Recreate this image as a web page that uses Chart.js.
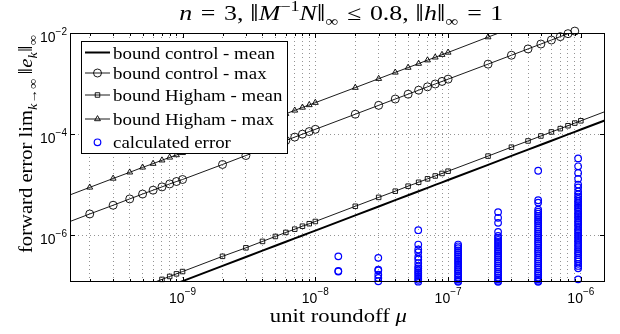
<!DOCTYPE html>
<html><head><meta charset="utf-8">
<script src="https://cdn.jsdelivr.net/npm/chart.js@4.4.1/dist/chart.umd.min.js"></script>
<style>html,body{margin:0;padding:0;background:#fff;}canvas{display:block;}</style>
</head><body>
<canvas id="c" width="620" height="334"></canvas>
<script>
// ---------- data ----------
const mu = [
  1e-10,2e-10,3e-10,4e-10,5e-10,6e-10,7e-10,8e-10,9e-10,
  1e-9,2e-9,3e-9,4e-9,5e-9,6e-9,7e-9,8e-9,9e-9,
  1e-8,2e-8,3e-8,4e-8,5e-8,6e-8,7e-8,8e-8,9e-8,
  1e-7,2e-7,3e-7,4e-7,5e-7,6e-7,7e-7,8e-7,9e-7,
  1e-6,2e-6];
const boundControlMean = [
  1.23e-8,2.46e-8,3.69e-8,4.92e-8,6.15e-8,7.38e-8,8.61e-8,9.84e-8,1.107e-7,
  1.23e-7,2.46e-7,3.69e-7,4.92e-7,6.15e-7,7.38e-7,8.61e-7,9.84e-7,1.107e-6,
  1.23e-6,2.46e-6,3.69e-6,4.92e-6,6.15e-6,7.38e-6,8.61e-6,9.84e-6,1.107e-5,
  1.23e-5,2.46e-5,3.69e-5,4.92e-5,6.15e-5,7.38e-5,8.61e-5,9.84e-5,1.107e-4,
  1.23e-4,2.46e-4];
const boundControlMax = [
  1.31e-6,2.62e-6,3.9e-6,5.2e-6,6.5e-6,7.75e-6,9.0e-6,1.03e-5,1.15e-5,
  1.26e-5,2.5e-5,3.76e-5,5.0e-5,6.25e-5,7.45e-5,8.7e-5,9.95e-5,1.12e-4,
  1.24e-4,2.47e-4,3.7e-4,4.93e-4,6.15e-4,7.38e-4,8.6e-4,9.8e-4,1.1e-3,
  1.22e-3,2.42e-3,3.63e-3,4.84e-3,6.05e-3,7.26e-3,8.47e-3,9.7e-3,1.09e-2,
  1.21e-2,2.42e-2];
const boundHighamMean = [
  1.9e-8,3.8e-8,5.7e-8,7.6e-8,9.5e-8,1.14e-7,1.33e-7,1.52e-7,1.71e-7,
  1.9e-7,3.8e-7,5.6e-7,7.5e-7,9.4e-7,1.13e-6,1.31e-6,1.5e-6,1.68e-6,
  1.86e-6,3.72e-6,5.58e-6,7.4e-6,9.3e-6,1.11e-5,1.3e-5,1.48e-5,1.66e-5,
  1.84e-5,3.66e-5,5.5e-5,7.3e-5,9.15e-5,1.1e-4,1.28e-4,1.46e-4,1.65e-4,
  1.83e-4,3.66e-4];
const boundHighamMax = [
  4.4e-6,8.8e-6,1.32e-5,1.75e-5,2.19e-5,2.6e-5,3.03e-5,3.45e-5,3.85e-5,
  4.25e-5,8.5e-5,1.27e-4,1.69e-4,2.1e-4,2.52e-4,2.94e-4,3.36e-4,3.77e-4,
  4.18e-4,8.3e-4,1.245e-3,1.66e-3,2.07e-3,2.48e-3,2.9e-3,3.3e-3,3.72e-3,
  4.12e-3,8.3e-3,1.24e-2,1.65e-2,2.06e-2,2.47e-2,2.88e-2,3.3e-2,3.7e-2,
  4.12e-2,8.24e-2];
const errMu = [1.49e-8,2.98e-8,5.96e-8,1.19e-7,2.38e-7,4.77e-7,9.54e-7];
const errCol1 = [3.8e-7,1.95e-7,1.9e-7];
const errCol2 = [3.55e-7,2.08e-7,2.0e-7,1.65e-7,1.42e-7,1.22e-7];
const errCol3 = [1.25e-6,6.5e-7,5.2e-7,4.6e-7,3.7e-7,3.3e-7,2.8e-7,2.4e-7,2.2e-7,2.0e-7,1.85e-7,1.7e-7,1.55e-7,1.42e-7,1.3e-7,1.2e-7];
const errCol4 = [6.5e-7,6.0e-7,5.5e-7,5.0e-7,4.6e-7,4.2e-7,3.85e-7,3.5e-7,3.2e-7,2.95e-7,2.7e-7,2.45e-7,2.25e-7,2.05e-7,1.9e-7,1.72e-7,1.58e-7,1.45e-7,1.33e-7,1.24e-7,1.19e-7];
const errCol5 = [2.85e-6,2.2e-6,1.75e-6,1.16e-6,9.6e-7,8.8e-7,8.0e-7,7.3e-7,6.7e-7,6.1e-7,5.6e-7,5.1e-7,4.7e-7,4.3e-7,3.9e-7,3.6e-7,3.3e-7,3.0e-7,2.75e-7,2.5e-7,2.3e-7,2.1e-7,1.9e-7,1.75e-7,1.6e-7,1.45e-7,1.33e-7,1.24e-7,1.19e-7];
const errCol6 = [1.88e-5,4.9e-6,4.4e-6,3.2e-6,2.9e-6,2.65e-6,2.4e-6,2.2e-6,2.0e-6,1.85e-6,1.7e-6,1.55e-6,1.4e-6,1.28e-6,1.17e-6,1.07e-6,9.8e-7,9.0e-7,8.2e-7,7.5e-7,6.9e-7,6.3e-7,5.7e-7,5.2e-7,4.8e-7,4.4e-7,4.0e-7,3.6e-7,3.3e-7,3.0e-7,2.75e-7,2.5e-7,2.3e-7,2.1e-7,1.9e-7,1.75e-7,1.6e-7,1.45e-7,1.33e-7,1.24e-7,1.19e-7];
const errCol7 = [3.3e-5,2.3e-5,1.7e-5,1.3e-5,1.0e-5,8.8e-6,7.3e-6,6.4e-6,5.8e-6,5.2e-6,4.7e-6,4.3e-6,3.9e-6,3.6e-6,3.3e-6,3.0e-6,2.7e-6,2.5e-6,2.3e-6,2.1e-6,1.9e-6,1.75e-6,1.6e-6,1.45e-6,1.3e-6,1.2e-6,1.1e-6,1.0e-6,9.2e-7,8.4e-7,7.7e-7,7.0e-7,6.4e-7,5.8e-7,5.3e-7,4.8e-7,4.4e-7,4.0e-7,3.6e-7,3.3e-7,3.0e-7,2.7e-7,2.45e-7,2.2e-7,1.33e-7];
const seriesLabels = ['bound control - mean','bound control - max','bound Higham - mean','bound Higham - max','calculated error'];
const xMajorTicks = [1e-9,1e-8,1e-7,1e-6];
const xTickLabels = ['10^-9','10^-8','10^-7','10^-6'];
const xMinorTicks = [2e-10,3e-10,4e-10,5e-10,6e-10,7e-10,8e-10,9e-10,
  2e-9,3e-9,4e-9,5e-9,6e-9,7e-9,8e-9,9e-9,
  2e-8,3e-8,4e-8,5e-8,6e-8,7e-8,8e-8,9e-8,
  2e-7,3e-7,4e-7,5e-7,6e-7,7e-7,8e-7,9e-7];
const yTicks = [1e-6,1e-4,1e-2];
const yTickLabels = ['10^-6','10^-4','10^-2'];
const X_MIN = 1.42e-10, X_MAX = 1.52e-6, Y_MIN = 1.18e-7, Y_MAX = 1e-2;

// ---------- helpers ----------
const F_SERIF = '"Liberation Serif","DejaVu Serif",serif';
const F_SANS = '"Liberation Sans","DejaVu Sans",Arial,sans-serif';
const pts = (xs, ys) => ys.map((y, i) => ({x: xs[i], y}));
const errPts = [errCol1,errCol2,errCol3,errCol4,errCol5,errCol6,errCol7]
  .flatMap((col, i) => col.map(y => ({x: errMu[i], y})));
const visible = p => p.x >= X_MIN && p.x <= X_MAX && p.y >= Y_MIN && p.y <= 1.12e-2;
const markerRadius = r => c => (c.raw && visible(c.raw)) ? r : 0;

function lineDs(ys, w) {
  return {data: pts(mu, ys), showLine: true, borderColor: '#000', borderWidth: w,
    pointRadius: 0, fill: false, tension: 0};
}
function markDs(ys, style, r) {
  return {data: pts(mu, ys), showLine: false, pointStyle: style, pointRadius: markerRadius(r),
    pointBorderColor: '#000', pointBackgroundColor: 'rgba(0,0,0,0)', pointBorderWidth: 0.9, clip: false};
}

// segments: [text, italic, kind, sizeFactor]
function drawRich(ctx, segs, size, x, y, align, targetW) {
  const items = segs.map(([t, it, k, f]) => {
    const s = (k === 'n' ? size : size * 0.7) * (f || 1);
    const font = (it ? 'italic ' : '') + s.toFixed(2) + 'px ' + F_SERIF;
    ctx.font = font;
    return {t, font, w: ctx.measureText(t).width,
      dy: k === 'sup' ? -size * 0.42 : k === 'sub' ? size * 0.28 : (f ? (f - 1) * size * 0.25 : 0)};
  });
  const total = items.reduce((a, b) => a + b.w, 0);
  const sx = targetW ? targetW / total : 1;
  ctx.save();
  ctx.translate(x, y);
  ctx.scale(sx, 1);
  let cx = align === 'center' ? -total / 2 : 0;
  ctx.textAlign = 'left'; ctx.textBaseline = 'alphabetic'; ctx.fillStyle = '#000';
  items.forEach(it => { ctx.font = it.font; ctx.fillText(it.t, cx, it.dy); cx += it.w; });
  ctx.restore();
}

function drawTickLabel(ctx, label, x, y, mode) {
  const [base, exp] = label.split('^');
  const e = exp.replace('-', '\u2212');
  ctx.font = '14px ' + F_SANS; const wb = ctx.measureText(base).width;
  ctx.font = '10px ' + F_SANS; const we = ctx.measureText(e).width;
  const x0 = mode === 'x' ? x - (wb + we) / 2 : x - (wb + we);
  ctx.textAlign = 'left'; ctx.textBaseline = 'alphabetic'; ctx.fillStyle = '#000';
  ctx.font = '14px ' + F_SANS; ctx.fillText(base, x0, y);
  ctx.font = '10px ' + F_SANS; ctx.fillText(e, x0 + wb, y - 7.5);
}

function drawMarker(ctx, style, x, y, r, color, lw) {
  ctx.save(); ctx.strokeStyle = color; ctx.lineWidth = lw || 0.9; ctx.beginPath();
  if (style === 'circle') ctx.arc(x, y, r, 0, Math.PI * 2);
  else if (style === 'rect') { const s = r * Math.SQRT1_2; ctx.rect(x - s, y - s, 2 * s, 2 * s); }
  else if (style === 'triangle') {
    let a = 0;
    for (let i = 0; i < 3; i++) { const px = x + Math.sin(a) * r, py = y - Math.cos(a) * r; i ? ctx.lineTo(px, py) : ctx.moveTo(px, py); a += 2 * Math.PI / 3; }
    ctx.closePath();
  }
  ctx.stroke(); ctx.restore();
}

const mlPlugin = {
  id: 'ml',
  afterDatasetsDraw(chart) {
    const ctx = chart.ctx;
    ctx.save();
    ctx.fillStyle = '#fff'; ctx.fillRect(81, 41, 206, 112);
    ctx.strokeStyle = '#000'; ctx.lineWidth = 1; ctx.strokeRect(81.5, 41.5, 206, 112);
    const rows = [
      {lw: 2, m: null, y: 58.5},
      {lw: 0.9, m: 'circle', r: 4, y: 79},
      {lw: 0.9, m: 'rect', r: 3.2, y: 101},
      {lw: 0.9, m: 'triangle', r: 3.4, y: 125},
      {lw: 0, m: 'circle', r: 3.3, y: 148.3, color: '#0000ff', mlw: 1.2}
    ];
    ctx.font = '17px ' + F_SERIF;
    const sx = 162 / ctx.measureText(seriesLabels[0]).width;
    rows.forEach((row, i) => {
      const cy = row.y - 6;
      if (row.lw) {
        ctx.strokeStyle = '#000'; ctx.lineWidth = row.lw;
        ctx.beginPath(); ctx.moveTo(85, cy); ctx.lineTo(110, cy); ctx.stroke();
      }
      if (row.m) drawMarker(ctx, row.m, 97.5, cy, row.r, row.color || '#000', row.mlw);
      ctx.save(); ctx.translate(113, row.y); ctx.scale(sx, 1);
      ctx.fillStyle = '#000'; ctx.font = '17px ' + F_SERIF; ctx.textAlign = 'left'; ctx.textBaseline = 'alphabetic';
      ctx.fillText(seriesLabels[i], 0, 0); ctx.restore();
    });
    ctx.restore();
  },
  afterDraw(chart) {
    const ctx = chart.ctx, a = chart.chartArea, xs = chart.scales.x, ys = chart.scales.y;
    ctx.save();
    ctx.strokeStyle = '#000'; ctx.lineWidth = 1;
    ctx.strokeRect(Math.round(a.left) + 0.5, Math.round(a.top) + 0.5, Math.round(a.right - a.left) - 1, Math.round(a.bottom - a.top) - 1);
    ctx.beginPath();
    const tickX = (v, len) => { const p = Math.round(xs.getPixelForValue(v)) + 0.5;
      ctx.moveTo(p, a.bottom); ctx.lineTo(p, a.bottom - len); ctx.moveTo(p, a.top); ctx.lineTo(p, a.top + len); };
    xMajorTicks.forEach(v => tickX(v, 5));
    xMinorTicks.forEach(v => tickX(v, 3));
    yTicks.forEach(v => { const p = Math.round(ys.getPixelForValue(v)) + 0.5;
      ctx.moveTo(a.left, p); ctx.lineTo(a.left + 5, p); ctx.moveTo(a.right, p); ctx.lineTo(a.right - 5, p); });
    ctx.stroke();
    xMajorTicks.forEach((v, i) => drawTickLabel(ctx, xTickLabels[i], xs.getPixelForValue(v), 302.5, 'x'));
    yTicks.forEach((v, i) => drawTickLabel(ctx, yTickLabels[i], a.left - 3, ys.getPixelForValue(v) + 9, 'y'));
    const NB = '\u2016';
    drawRich(ctx, [['n', 1, 'n'], ['\u2004=\u20043, ', 0, 'n'], [NB, 0, 'n', 1.2], ['M', 1, 'n'], ['\u22121', 0, 'sup'], ['N', 1, 'n'],
      [NB, 0, 'n', 1.2], ['\u221e', 0, 'sub'], ['\u2004\u2264\u20040.8, ', 0, 'n'], [NB, 0, 'n', 1.2], ['h', 1, 'n'], [NB, 0, 'n', 1.2],
      ['\u221e', 0, 'sub'], ['\u2004=\u20041', 0, 'n']], 20.5, 341.3, 20, 'center', 324);
    drawRich(ctx, [['unit roundoff ', 0, 'n'], ['\u03bc', 1, 'n']], 18, 338.3, 321.5, 'center', 137);
    ctx.save(); ctx.translate(31.5, 144); ctx.rotate(-Math.PI / 2);
    drawRich(ctx, [['forward error lim', 0, 'n'], ['k', 1, 'sub'], ['\u2192\u221e', 0, 'sub'], ['\u2009', 0, 'n'], [NB, 0, 'n', 1.2],
      ['e', 1, 'n'], ['k', 1, 'sub'], [NB, 0, 'n', 1.2], ['\u221e', 0, 'sub']], 18, 0, 0, 'center', 218);
    ctx.restore();
    ctx.restore();
  }
};

new Chart(document.getElementById('c'), {
  type: 'scatter',
  data: {
    datasets: [
      lineDs(boundControlMean, 2),
      lineDs(boundControlMax, 0.9),
      lineDs(boundHighamMean, 0.9),
      lineDs(boundHighamMax, 0.9),
      markDs(boundControlMax, 'circle', 4),
      markDs(boundHighamMean, 'rect', 3.2),
      markDs(boundHighamMax, 'triangle', 3.4),
      {data: errPts, showLine: false, pointStyle: 'circle', pointRadius: markerRadius(3.3),
        pointBorderColor: '#0000ff', pointBackgroundColor: 'rgba(0,0,0,0)', pointBorderWidth: 1.2, clip: false}
    ]
  },
  options: {
    responsive: false, animation: false, events: [],
    layout: {padding: {top: 33, right: 15, left: 0, bottom: 0}},
    plugins: {legend: {display: false}, tooltip: {enabled: false}, title: {display: false}},
    scales: {
      x: {
        type: 'logarithmic', min: X_MIN, max: X_MAX,
        afterBuildTicks: s => { s.ticks = xMajorTicks.concat(xMinorTicks).sort((p, q) => p - q).map(v => ({value: v})); },
        afterFit: s => { s.height = 52; },
        ticks: {display: false, autoSkip: false},
        grid: {color: 'rgba(0,0,0,0.42)', lineWidth: 1, drawTicks: false},
        border: {display: false, dash: [1, 3]}
      },
      y: {
        type: 'logarithmic', min: Y_MIN, max: Y_MAX,
        afterBuildTicks: s => { s.ticks = yTicks.map(v => ({value: v})); },
        afterFit: s => { s.width = 70; },
        ticks: {display: false, autoSkip: false},
        grid: {color: 'rgba(0,0,0,0.42)', lineWidth: 1, drawTicks: false},
        border: {display: false, dash: [1, 3]}
      }
    }
  },
  plugins: [mlPlugin]
});
</script>
</body></html>
